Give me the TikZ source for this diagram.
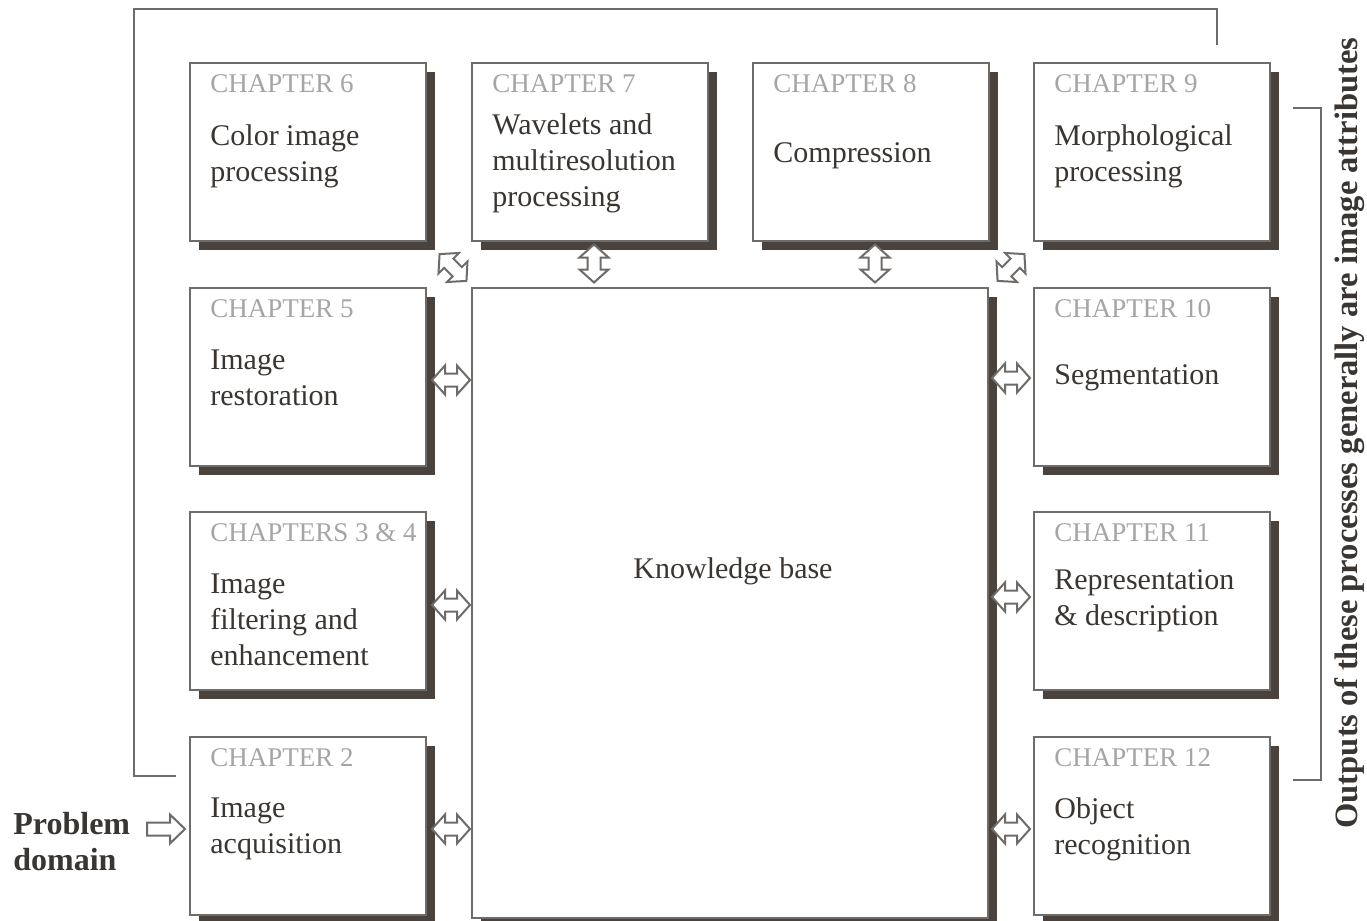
\documentclass[tikz,border=0pt]{standalone}
\usepackage{fontspec}
\setmainfont{Liberation Serif}
\usetikzlibrary{calc,shadows}
\definecolor{IPframe}{HTML}{6E6B68}
\definecolor{IPshade}{HTML}{4A433D}
\definecolor{IPtext}{HTML}{3A3531}
\definecolor{IPchap}{HTML}{A5A5A5}
\tikzset{IPbox/.style={draw=IPframe,line width=0.8pt,fill=white,anchor=north west,inner sep=0pt,
           minimum width=118.2pt,minimum height=89.2pt,
           drop shadow={shadow xshift=4.5pt,shadow yshift=-4.5pt,fill=IPshade,opacity=1}},
         IPchaplab/.style={anchor=base west,inner sep=0pt,text=IPchap,font=\fontsize{13.5}{16}\selectfont},
         IPbody/.style={anchor=north west,inner sep=0pt,align=left,text=IPtext,font=\fontsize{15}{18}\selectfont},
         IPline/.style={draw=IPframe,line width=0.8pt},
         IPdbl/.pic={\draw[IPline,line width=1pt,fill=white] (-19,0) -- (-6,14.5) -- (-6,6.5) -- (6,6.5) -- (6,14.5) -- (19,0)
                       -- (6,-14.5) -- (6,-6.5) -- (-6,-6.5) -- (-6,-14.5) -- cycle;},
         IPsgl/.pic={\draw[IPline,line width=1pt,fill=white] (-19,6.5) -- (4,6.5) -- (4,14.5) -- (19,0) -- (4,-14.5)
                       -- (4,-6.5) -- (-19,-6.5) -- cycle;}}

\begin{document}
\begin{tikzpicture}[x=0.5pt,y=-0.5pt]
  \useasboundingbox (0,0) rectangle (1367,921);
  % chapter boxes: name/x/y/title/body offset/body
  \foreach \n/\x/\y/\t/\o/\b in {c6/189/62/{CHAPTER 6}/62/{Color image\\processing},
      c7/471/62/{CHAPTER 7}/51/{Wavelets and\\multiresolution\\processing},
      c8/752/62/{CHAPTER 8}/80/{Compression},
      c9/1033/62/{CHAPTER 9}/62/{Morphological\\processing},
      c5/189/287/{CHAPTER 5}/62/{Image\\restoration},
      c10/1033/287/{CHAPTER 10}/77/{Segmentation},
      c34/189/511/{CHAPTERS 3 \& 4}/62/{Image\\filtering and\\enhancement},
      c11/1033/511/{CHAPTER 11}/58/{Representation\\\& description},
      c2/189/736/{CHAPTER 2}/61/{Image\\acquisition},
      c12/1033/736/{CHAPTER 12}/61/{Object\\recognition}}
    {\node[IPbox] (\n) at (\x,\y) {};
     \node[IPchaplab] (\n-t) at ([shift={(21,30)}]\n.north west) {\t};
     \node[IPbody] (\n-b) at ([shift={(21,\o)}]\n.north west) {\b};}
  % knowledge base
  \node[IPbox,minimum width=258.2pt,minimum height=315pt] (kb) at (471,287) {};
  \node[IPbody,anchor=base] (kb-t) at ($(kb.north)+(3,291)$) {Knowledge base};
  % arrows to and from the knowledge base
  \foreach \a/\dy in {c5/3,c34/4,c2/3}
    \pic at ($(\a.east)!.5!(\a.east -| kb.west)+(2,\dy)$) {IPdbl};
  \foreach \a/\dy in {c10/1,c11/-4,c12/3}
    \pic at ($(\a.west)!.5!(\a.west -| kb.east)+(0,\dy)$) {IPdbl};
  \foreach \a in {c7,c8}
    \pic[rotate=90] at ($(\a.south)!.5!(\a.south |- kb.north)+(4,-1)$) {IPdbl};
  \pic[rotate=-45] at ($(c6.south east)!.5!(kb.north west)+(4,3)$) {IPdbl};
  \pic[rotate=45] at ($(c9.south west)!.5!(kb.north east)+(0,3)$) {IPdbl};
  % problem domain
  \node[IPbody,font=\fontsize{16}{18}\selectfont\bfseries] (pd) at (13,812) {Problem\\domain};
  \pic at ($(c2.west)+(-23,3)$) {IPsgl};
  % feedback line
  \coordinate (fbin) at ([shift={(-13,40)}]c2.north west);
  \coordinate (fbout) at ([shift={(184,-17)}]c9.north west);
  \draw[IPline] (fbin) -- (fbin -| 134,0) -- (134,9) -- (fbout |- 0,9) -- (fbout);
  % outputs bracket
  \coordinate (brt) at ([shift={(22,46)}]c9.north east);
  \coordinate (brb) at ([shift={(22,44)}]c12.north east);
  \draw[IPline] (brt) -- ++(28,0) |- (brb);
  \node[rotate=90,inner sep=0pt,text=IPtext,font=\fontsize{16.3}{18}\selectfont\bfseries] (outs) at (1350,433)
    {Outputs of these processes generally are image attributes};
\end{tikzpicture}
\end{document}
